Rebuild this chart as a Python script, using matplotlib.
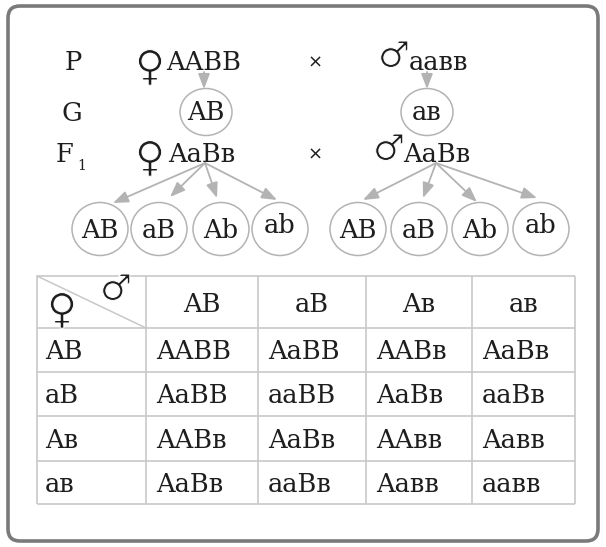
import matplotlib
matplotlib.use("Agg")
import matplotlib.pyplot as plt
import matplotlib.patheffects as pe
from matplotlib.patches import FancyBboxPatch, Ellipse, FancyArrowPatch

# ---------------- data ----------------
generation_labels = ["P", "G", "F"]
parent_female = "AABB"
parent_male = "aaвв"
p_gamete_female = "AB"
p_gamete_male = "aв"
f1_female = "AaBв"
f1_male = "AaBв"
f1_gametes = ["AB", "aB", "Ab", "ab"]
table_cols = ["AB", "aB", "Aв", "aв"]
table_rows = ["AB", "aB", "Aв", "aв"]
table_cells = [
    ["AABB", "AaBB", "AABв", "AaBв"],
    ["AaBB", "aaBB", "AaBв", "aaBв"],
    ["AABв", "AaBв", "AAвв", "Aaвв"],
    ["AaBв", "aaBв", "Aaвв", "aaвв"],
]

# ---------------- layout ----------------
W, H = 606, 547
fig = plt.figure(figsize=(W / 100, H / 100), dpi=100)
ax = fig.add_axes([0, 0, 1, 1])
ax.set_xlim(0, W)
ax.set_ylim(H, 0)
ax.axis("off")

TXT = "#1e1e1e"
GRAY = "#b3b3b3"
SERIF = ["DejaVu Serif", "DejaVu Sans"]
FS = 18.5
SYM = ["DejaVu Sans"]
THIN = [pe.Stroke(linewidth=0.75, foreground="white")]

# outer frame
frame = FancyBboxPatch((8, 6), 590, 535, boxstyle="round,pad=0,rounding_size=12",
                       facecolor="white", edgecolor="#7a7a7a", linewidth=2.6)
ax.add_patch(frame)

def txt(x, y, s, ha="left", fs=FS, va="baseline", fam=SERIF, color=TXT):
    ax.text(x, y, s, ha=ha, va=va, fontsize=fs, family=fam, color=color)

def female(x, y, fs=30):
    ax.text(x, y, "♀", ha="center", va="center", fontsize=fs, family=SYM,
            color=TXT, path_effects=THIN)

def male(x, y, fs=26):
    ax.text(x, y, "♂", ha="center", va="center", fontsize=fs, family=SYM,
            color=TXT, path_effects=THIN)

def arrow(p0, p1):
    a = FancyArrowPatch(p0, p1, arrowstyle="-|>,head_length=1.3,head_width=0.5",
                        mutation_scale=7, color=GRAY, lw=1.3, shrinkA=0, shrinkB=0)
    ax.add_patch(a)

# ---- P row ----
txt(73, 70, generation_labels[0], ha="center")
female(150, 68)
txt(166, 70, parent_female)
txt(315, 68, "×", ha="center", fs=13, fam=["DejaVu Sans"])
male(394, 57)
txt(409, 70, parent_male)

# ---- G row ----
txt(72, 121, generation_labels[1], ha="center")
arrow((204, 72), (204, 89))
arrow((427, 72), (427, 89))
for cx, g in [(206, p_gamete_female), (427, p_gamete_male)]:
    ax.add_patch(Ellipse((cx, 112), 52, 47, facecolor="none", edgecolor=GRAY, lw=1.1))
    txt(cx, 120, g, ha="center")

# ---- F1 row ----
txt(65, 162, generation_labels[2], ha="center")
txt(77, 170, "1", fs=10)
female(150, 159)
txt(168, 162, f1_female)
txt(315, 160, "×", ha="center", fs=13, fam=["DejaVu Sans"])
male(389, 150)
txt(403, 162, f1_male)

left_c = [100, 159, 221, 280]
right_c = [358, 419, 480, 541]
left_tip = [(113, 203), (170, 197), (217, 198), (277, 200)]
right_tip = [(363, 200), (423, 198), (477, 202), (537, 198)]
for centers, tips, origin in [(left_c, left_tip, (205, 163)), (right_c, right_tip, (436, 163))]:
    for cx, g, tip in zip(centers, f1_gametes, tips):
        ax.add_patch(Ellipse((cx, 229), 56, 53, facecolor="none", edgecolor=GRAY, lw=1.1))
        base = 233 if g == "ab" else 238
        txt(cx, base, g, ha="center")
        arrow(origin, tip)

# ---- Punnett table ----
col_x = [37, 146, 258, 366, 472, 575]
row_y = [276, 328, 372, 416, 461, 504]
LINE = "#c8c8c8"
for x in col_x:
    ax.plot([x, x], [row_y[0], row_y[-1]], color=LINE, lw=1.2, solid_capstyle="butt")
for y in row_y:
    ax.plot([col_x[0], col_x[-1]], [y, y], color=LINE, lw=1.2, solid_capstyle="butt")
ax.plot([col_x[0], col_x[1]], [row_y[0], row_y[1]], color=LINE, lw=1.1)
female(62, 311)
male(116, 290)

for j, c in enumerate(table_cols):
    cx = (col_x[j + 1] + col_x[j + 2]) / 2
    txt(cx, (row_y[0] + row_y[1]) / 2 + 10, c, ha="center")
for i, r in enumerate(table_rows):
    base = (row_y[i + 1] + row_y[i + 2]) / 2 + 9
    txt(col_x[0] + 8, base, r)
    for j, cell in enumerate(table_cells[i]):
        txt(col_x[j + 1] + 10, base, cell)

fig.savefig("out.png", dpi=100)
